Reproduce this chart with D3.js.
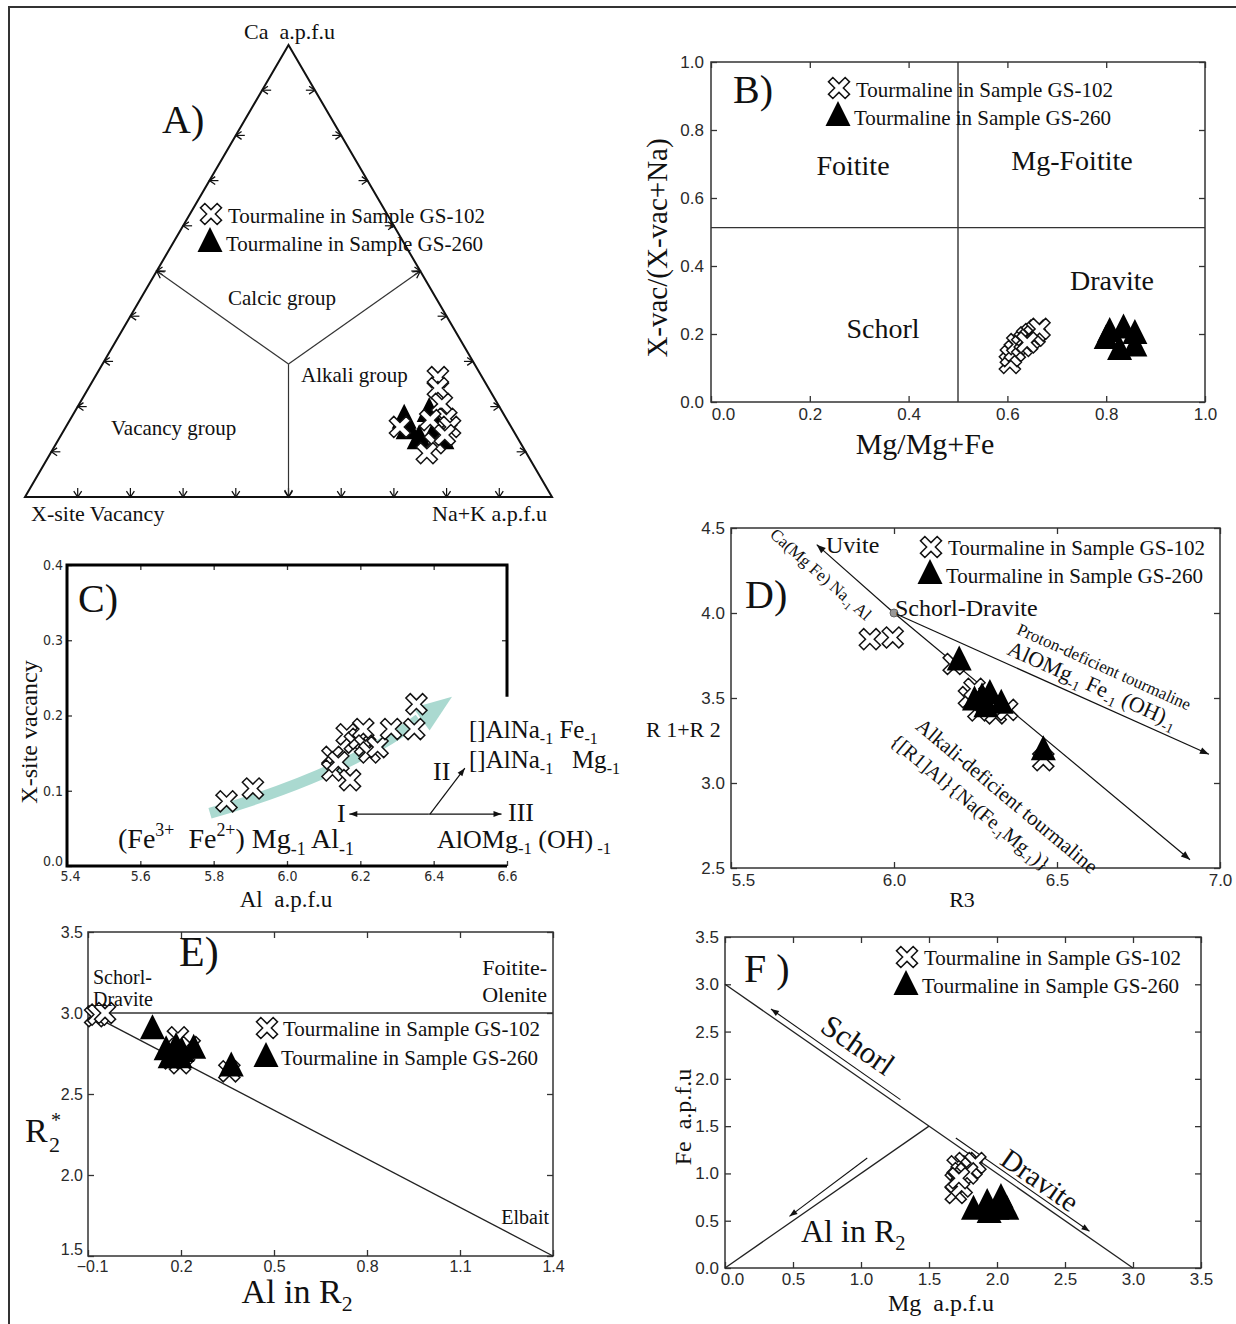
<!DOCTYPE html>
<html><head><meta charset="utf-8">
<script src="https://cdn.jsdelivr.net/npm/d3@7"></script>
<style>body{margin:0;background:#fff} svg{display:block} text{white-space:pre}</style>
</head><body><svg id="c" width="1236" height="1324"></svg>
<script>
// ================= DATA =================
// Panel A ternary: [Ca, X-site vacancy, Na+K]
const aGS102 = [[0.265,0.084,0.651],[0.241,0.096,0.663],[0.206,0.106,0.688],[0.173,0.114,0.713],[0.155,0.211,0.634],[0.155,0.116,0.729],[0.119,0.163,0.718],[0.097,0.189,0.714],[0.170,0.146,0.684],[0.137,0.135,0.728]];
const aGS260 = [[0.173,0.194,0.633],[0.188,0.139,0.673],[0.128,0.188,0.684],[0.128,0.145,0.727],[0.144,0.150,0.706],[0.150,0.198,0.652]];
const aSideTicks = [0.1,0.2,0.3,0.4,0.5,0.6,0.7,0.8,0.9];
// Panel B: [Mg/(Mg+Fe), X-vac/(X-vac+Na)]
const bGS102 = [[0.605,0.115],[0.607,0.135],[0.615,0.150],[0.620,0.170],[0.630,0.165],[0.635,0.180],[0.640,0.190],[0.645,0.185],[0.650,0.200],[0.655,0.195],[0.660,0.210],[0.665,0.215],[0.640,0.175]];
const bGS260 = [[0.807,0.206],[0.835,0.216],[0.858,0.200],[0.827,0.153],[0.858,0.163],[0.800,0.185]];
const bXTicks = [0,0.2,0.4,0.6,0.8,1.0];
const bYTicks = [0,0.2,0.4,0.6,0.8,1.0];
// Panel C: [Al apfu, X-site vacancy]
const cGS102 = [[5.835,0.086],[5.907,0.103],[6.124,0.145],[6.124,0.127],[6.140,0.138],[6.163,0.175],[6.172,0.114],[6.185,0.164],[6.197,0.169],[6.208,0.182],[6.213,0.160],[6.225,0.151],[6.247,0.158],[6.284,0.182],[6.347,0.182],[6.353,0.215]];
const cXTicks = [5.4,5.6,5.8,6.0,6.2,6.4,6.6];
const cYTicks = [0,0.1,0.2,0.3,0.4];
// Panel D: [R3, R1+R2]
const dGS102 = [[5.926,3.846],[5.996,3.856],[6.183,3.700],[6.230,3.505],[6.247,3.554],[6.259,3.427],[6.312,3.410],[6.347,3.430],[6.458,3.134],[6.277,3.476]];
const dGS260 = [[6.200,3.720],[6.247,3.485],[6.270,3.505],[6.294,3.524],[6.329,3.466],[6.282,3.446],[6.458,3.193]];
const dXTicks = [5.5,6.0,6.5,7.0];
const dYTicks = [2.5,3.0,3.5,4.0,4.5];
// Panel E: [Al in R2, R2*]
const eGS102 = [[-0.077,2.98],[-0.067,2.99],[-0.045,3.00],[0.190,2.85],[0.197,2.69],[0.228,2.79],[0.170,2.72],[0.210,2.75],[0.356,2.64]];
const eGS260 = [[0.108,2.90],[0.152,2.77],[0.184,2.79],[0.203,2.76],[0.241,2.78],[0.165,2.72],[0.197,2.72],[0.362,2.67]];
const eXTicks = [-0.1,0.2,0.5,0.8,1.1,1.4];
const eYTicks = [1.5,2.0,2.5,3.0,3.5];
// Panel F: [Mg apfu, Fe apfu]
const fGS102 = [[1.697,0.916],[1.711,1.075],[1.740,1.004],[1.769,1.110],[1.812,1.057],[1.841,1.110],[1.697,0.793],[1.740,0.863],[1.780,1.000],[1.720,0.950]];
const fGS260 = [[1.827,0.617],[1.928,0.687],[1.942,0.581],[2.029,0.740],[2.072,0.617],[2.000,0.617]];
const fXTicks = [0,0.5,1.0,1.5,2.0,2.5,3.0,3.5];
const fYTicks = [0,0.5,1.0,1.5,2.0,2.5,3.0,3.5];
const legendLabels = ["Tourmaline in Sample GS-102","Tourmaline in Sample GS-260"];

// ================= HELPERS =================
const W=1236,H=1324;
const svg=d3.select('#c');
const SERIF="'Liberation Serif','Times New Roman',serif";
const SANS="'Liberation Sans',Arial,sans-serif";
const NARROW="'Liberation Sans Narrow','Arial Narrow','DejaVu Sans Condensed',sans-serif";
const INK='#111';

svg.append('rect').attr('width',W).attr('height',H).attr('fill','#fff');
svg.append('path').attr('d','M9,1324 V7 H1236').attr('fill','none').attr('stroke','#333').attr('stroke-width',2);

const X_PATH=(()=>{const s=11.8,t=3.1,r=Math.SQRT1_2;
  const p=[[t,t],[t,s],[-t,s],[-t,t],[-s,t],[-s,-t],[-t,-t],[-t,-s],[t,-s],[t,-t],[s,-t],[s,t]];
  return 'M'+p.map(([x,y])=>((x-y)*r).toFixed(2)+','+((x+y)*r).toFixed(2)).join('L')+'Z';})();
function triPath(w,h){return `M0,${-h*0.6}L${w/2},${h*0.4}L${-w/2},${h*0.4}Z`;}
const TRI_PATH=triPath(25,25);

function drawX(g,pts){g.selectAll(null).data(pts).join('path').attr('d',X_PATH)
  .attr('transform',d=>`translate(${d[0]},${d[1]})`).attr('fill','#fff').attr('stroke',INK).attr('stroke-width',1.5);}
function drawT(g,pts){g.selectAll(null).data(pts).join('path').attr('d',TRI_PATH)
  .attr('transform',d=>`translate(${d[0]},${d[1]})`).attr('fill','#000');}

function txt(g,x,y,s,size,o={}){
  const t=g.append('text').attr('x',x).attr('y',y).attr('font-family',o.font||SERIF).attr('font-size',size)
   .attr('fill',o.fill||INK).attr('text-anchor',o.anchor||'start').text(s);
  if(o.transform) t.attr('transform',o.transform);
  if(o.baseline) t.attr('dominant-baseline',o.baseline);
  return t;}
function rich(g,x,y,parts,size,o={}){
  const t=g.append('text').attr('x',x).attr('y',y).attr('font-family',SERIF).attr('font-size',size)
   .attr('fill',INK).attr('text-anchor',o.anchor||'start');
  if(o.transform) t.attr('transform',o.transform);
  let cur=0;
  parts.forEach(([s,k])=>{const off=k==='sub'?0.24*size:k==='sup'?-0.42*size:0;
    const ts=t.append('tspan').attr('dy',off-cur).text(s); if(k&&k!=='n') ts.attr('font-size',size*0.64); cur=off;});
  return t;}
function legend(g,x,y1,y2,tx1,tx2,b1,b2,size){
  drawX(g,[[x,y1]]); drawT(g,[[x-1,y2]]);
  txt(g,tx1,b1,legendLabels[0],size); txt(g,tx2,b2,legendLabels[1],size);}
function arrowHead(g,x1,y1,x2,y2,L=9,w=3.5,col=INK){
  const a=Math.atan2(y2-y1,x2-x1),c=Math.cos(a),s=Math.sin(a);
  g.append('path').attr('d',`M${x2},${y2}L${x2-L*c+w*s},${y2-L*s-w*c}L${x2-L*c-w*s},${y2-L*s+w*c}Z`).attr('fill',col);}
function arrow(g,x1,y1,x2,y2,o={}){
  g.append('line').attr('x1',x1).attr('y1',y1).attr('x2',x2).attr('y2',y2).attr('stroke',o.col||INK).attr('stroke-width',o.sw||1.2);
  arrowHead(g,x1,y1,x2,y2,o.L||9,o.w||3.5,o.col||INK);}
function line(g,x1,y1,x2,y2,sw=1.3,col='#222'){
  g.append('line').attr('x1',x1).attr('y1',y1).attr('x2',x2).attr('y2',y2).attr('stroke',col).attr('stroke-width',sw);}
function chevron(g,x,y,ang,L=7,spr=0.6){
  const p=[ang+Math.PI-spr,ang+Math.PI+spr].map(a=>[x+L*Math.cos(a),y+L*Math.sin(a)]);
  g.append('path').attr('d',`M${p[0]}L${x},${y}L${p[1]}`).attr('fill','none').attr('stroke',INK).attr('stroke-width',1.3);}

function axes(g,x,y,xt,yt,o={}){
  const [x0,x1]=x.range(),[y0,y1]=y.range();
  const fs=o.fs||17,font=o.font||SANS,tk=o.tk||6;
  const fx=o.fmtX||d3.format('.1f'),fy=o.fmtY||d3.format('.1f');
  const st=sel=>{sel.select('.domain').remove();sel.selectAll('line').attr('stroke','#333').attr('stroke-width',1.3);
    sel.selectAll('text').attr('font-family',font).attr('font-size',fs).attr('fill','#2a2a2a');};
  const bx=g.append('g').attr('transform',`translate(0,${y0})`).call(d3.axisBottom(x).tickValues(xt).tickFormat(fx).tickSizeInner(-tk).tickSizeOuter(0).tickPadding(o.xpad||5)).call(st);
  if(o.firstShift) bx.selectAll('.tick text').filter((d,i)=>i===0).attr('dx',o.firstShift);
  const ly=g.append('g').attr('transform',`translate(${x0},0)`).call(d3.axisLeft(y).tickValues(yt).tickFormat(fy).tickSizeInner(-tk).tickSizeOuter(0).tickPadding(o.ypad||5)).call(st);
  if(o.firstYShift) ly.selectAll('.tick text').filter((d,i)=>i===0).attr('dy',o.firstYShift);
  if(!o.noTop) g.append('g').attr('transform',`translate(0,${y1})`).call(d3.axisTop(x).tickValues(xt).tickFormat('').tickSizeInner(-tk).tickSizeOuter(0)).call(st);
  g.append('g').attr('transform',`translate(${x1},0)`).call(d3.axisRight(y).tickValues(o.rightTicks||yt).tickFormat('').tickSizeInner(-tk).tickSizeOuter(0)).call(st);
  if(!o.noFrame) g.append('rect').attr('x',x0).attr('y',y1).attr('width',x1-x0).attr('height',y0-y1).attr('fill','none').attr('stroke','#333').attr('stroke-width',o.frameW||1.5);
}

// ================= PANEL A (ternary) =================
{
const g=svg.append('g');
const aX=d3.scaleLinear().domain([0,1]).range([25,552]);
const aY=d3.scaleLinear().domain([0,1]).range([497,45]);
const tern=d=>[aX(d[2]+d[0]/2),aY(d[0])];
const A=tern([1,0,0]),B=tern([0,1,0]),C=tern([0,0,1]);
g.append('path').attr('d',`M${A}L${B}L${C}Z`).attr('fill','none').attr('stroke',INK).attr('stroke-width',2);
aSideTicks.forEach(f=>{
  const pb=tern([0,1-f,f]); line(g,pb[0],pb[1],pb[0],pb[1]-9,1.2,INK); chevron(g,pb[0],pb[1],Math.PI/2);
  const pl=tern([f,1-f,0]); line(g,pl[0],pl[1],pl[0]+9,pl[1],1.2,INK); chevron(g,pl[0],pl[1],Math.PI);
  const pr=tern([f,0,1-f]); line(g,pr[0],pr[1],pr[0]-9,pr[1],1.2,INK); chevron(g,pr[0],pr[1],0);
});
const ctr=tern([0.294,0.353,0.353]);
[[0.5,0.5,0],[0.5,0,0.5],[0,0.5,0.5]].forEach(e=>{const p=tern(e);
  line(g,ctr[0],ctr[1],p[0],p[1],1.2,'#333');
  chevron(g,p[0],p[1],Math.atan2(p[1]-ctr[1],p[0]-ctr[0]),8,0.5);});
txt(g,244,39,'Ca  a.p.f.u',22);
txt(g,31,521,'X-site Vacancy',22);
txt(g,432,521,'Na+K a.p.f.u',22);
txt(g,162,133,'A)',40);
txt(g,282,305,'Calcic group',21,{anchor:'middle'});
txt(g,301,382,'Alkali group',21);
txt(g,111,435,'Vacancy group',21);
legend(g,211,214,242,228,226,223,251,21);
drawT(g,aGS260.map(tern));
drawX(g,aGS102.map(tern));
}

// ================= PANEL B =================
{
const g=svg.append('g');
const x=d3.scaleLinear().domain([0,1]).range([711,1205]);
const y=d3.scaleLinear().domain([0,1]).range([402,62]);
axes(g,x,y,bXTicks,bYTicks,{fs:17,firstShift:12,xpad:6,ypad:7});
line(g,x(0.5),y(0),x(0.5),y(1),1.4,'#333');
line(g,x(0),y(0.513),x(1),y(0.513),1.4,'#333');
txt(g,733,103,'B)',40);
legend(g,839,88,116,856,854,97,125,21);
txt(g,853,175,'Foitite',28,{anchor:'middle'});
txt(g,1072,170,'Mg-Foitite',28,{anchor:'middle'});
txt(g,1112,290,'Dravite',28,{anchor:'middle'});
txt(g,883,338,'Schorl',28,{anchor:'middle'});
txt(g,0,0,'X-vac/(X-vac+Na)',29,{anchor:'middle',transform:'translate(667,248) rotate(-90)'});
txt(g,925,454,'Mg/Mg+Fe',30,{anchor:'middle'});
drawX(g,bGS102.map(d=>[x(d[0]),y(d[1])]));
drawT(g,bGS260.map(d=>[x(d[0]),y(d[1])]));
}

// ================= PANEL C =================
{
const g=svg.append('g');
const x=d3.scaleLinear().domain([5.4,6.6]).range([67,507]);
const y=d3.scaleLinear().domain([0,0.4]).range([866,565]);
axes(g,x,y,cXTicks,cYTicks,{fs:14,font:NARROW,noFrame:true,rightTicks:[0.3],xpad:5,ypad:4,tk:5,firstShift:3,firstYShift:'-0.05em'});
g.append('path').attr('d',`M${x(6.6)},${y(0.225)}V${y(0.4)}H${x(5.4)}V${y(0)}H${x(6.6)}`).attr('fill','none').attr('stroke','#000').attr('stroke-width',3);
// teal trend arrow
const col='#aad9d0';
const p0=[x(5.79),y(0.07)],pm=[x(6.12),y(0.128)],p2=[x(6.36),y(0.195)],tip=[x(6.45),y(0.225)];
const p1=[2*pm[0]-0.5*(p0[0]+p2[0]),2*pm[1]-0.5*(p0[1]+p2[1])];
g.append('path').attr('d',`M${p0}Q${p1} ${p2}`).attr('fill','none').attr('stroke',col).attr('stroke-width',11);
arrowHead(g,p1[0],p1[1],tip[0],tip[1],38,14,col);
drawX(g,cGS102.map(d=>[x(d[0]),y(d[1])]));
txt(g,98,612,'C)',40,{anchor:'middle'});
txt(g,0,0,'X-site vacancy',24,{anchor:'middle',transform:'translate(37,732) rotate(-90)'});
txt(g,286,907,'Al  a.p.f.u',23,{anchor:'middle'});
rich(g,469,738,[['[]AlNa'],['-1','sub'],[' Fe'],['-1','sub']],25);
rich(g,469,768,[['[]AlNa'],['-1','sub'],['   Mg'],['-1','sub']],25);
txt(g,433,780,'II',26);
txt(g,337,822,'I',26);
txt(g,508,821,'III',26);
rich(g,118,848,[['(Fe'],['3+','sup'],['  Fe'],['2+','sup'],[') Mg'],['-1','sub'],[' Al'],['-1','sub']],28);
rich(g,437,848,[['AlOMg'],['-1','sub'],[' (OH)'],[' -1','sub']],26);
arrow(g,(x(6.17)+x(6.6))/2,y(0.069),x(6.17),y(0.069),{L:8,w:3});
arrow(g,(x(6.17)+x(6.6))/2,y(0.069),x(6.585),y(0.069),{L:8,w:3});
arrow(g,x(6.39),y(0.069),x(6.485),y(0.13),{L:8,w:3});
}

// ================= PANEL D =================
{
const g=svg.append('g');
const x=d3.scaleLinear().domain([5.5,7.0]).range([731,1220]);
const y=d3.scaleLinear().domain([2.5,4.5]).range([868,528]);
axes(g,x,y,dXTicks,dYTicks,{fs:17,firstShift:12,xpad:6,ypad:6});
const o=[x(6.0),y(4.0)];
arrow(g,o[0],o[1],x(5.763),y(4.402),{sw:1.2});
arrow(g,o[0],o[1],x(6.908),y(2.549),{sw:1.2});
arrow(g,o[0],o[1],x(6.966),y(3.169),{sw:1.2});
const ang=(a,b)=>Math.atan2(b[1]-a[1],b[0]-a[0])*180/Math.PI;
const a1=ang([x(5.763),y(4.402)],o), a2=ang(o,[x(6.966),y(3.169)]), a3=ang(o,[x(6.908),y(2.549)]);
drawX(g,dGS102.map(d=>[x(d[0]),y(d[1])]));
drawT(g,dGS260.map(d=>[x(d[0]),y(d[1])]));
g.append('circle').attr('cx',o[0]).attr('cy',o[1]).attr('r',4).attr('fill','#999').attr('stroke','#666');
txt(g,745,608,'D)',40);
txt(g,826,553,'Uvite',24);
txt(g,895,616,'Schorl-Dravite',24);
rich(g,0,0,[['Ca(Mg Fe) Na'],['-1','sub'],[' Al']],17,{transform:`translate(769,536) rotate(${a1})`});
txt(g,0,0,'Proton-deficient tourmaline',17,{anchor:'middle',baseline:'central',transform:`translate(1104,667) rotate(${a2})`});
rich(g,0,6,[['AlOMg'],['-1','sub'],[' Fe'],['-1','sub'],[' (OH)'],['-1','sub']],22,{anchor:'middle',transform:`translate(1092,686) rotate(${a2})`});
txt(g,0,7,'Alkali-deficient tourmaline',21,{anchor:'middle',transform:`translate(1007,796) rotate(${a3})`});
rich(g,0,6,[['{[R1]Al}{Na(Fe'],['-1','sub'],['Mg'],['-1','sub'],[')}']],20,{anchor:'middle',transform:`translate(970,803) rotate(${a3})`});
legend(g,931,547,574,948,946,555,583,21);
txt(g,646,737,'R 1+R 2',22);
txt(g,962,907,'R3',22,{anchor:'middle'});
}

// ================= PANEL E =================
{
const g=svg.append('g');
const x=d3.scaleLinear().domain([-0.1,1.4]).range([88,553]);
const y=d3.scaleLinear().domain([1.5,3.5]).range([1256,932]);
axes(g,x,y,eXTicks,eYTicks,{fs:16,xpad:5,ypad:5,firstShift:4,firstYShift:'-0.1em'});
line(g,x(-0.1),y(3.0),x(1.4),y(3.0),1.4,'#333');
line(g,x(-0.1),y(3.0),x(1.4),y(1.5),1.4,'#222');
drawX(g,eGS102.map(d=>[x(d[0]),y(d[1])]));
drawT(g,eGS260.map(d=>[x(d[0]),y(d[1])]));
txt(g,179,966,'E)',42);
txt(g,93,984,'Schorl-',20);
txt(g,93,1006,'Dravite',20);
txt(g,547,975,'Foitite-',22,{anchor:'end'});
txt(g,547,1002,'Olenite',22,{anchor:'end'});
txt(g,549,1224,'Elbait',20,{anchor:'end'});
legend(g,267,1028,1057,283,281,1036,1065,21);
txt(g,25,1142,'R',34);
txt(g,51,1127,'*',20);
txt(g,49,1152,'2',22);
rich(g,297,1303,[['Al in R'],['2','sub']],34,{anchor:'middle'});
}

// ================= PANEL F =================
{
const g=svg.append('g');
const x=d3.scaleLinear().domain([0,3.5]).range([725,1201]);
const y=d3.scaleLinear().domain([0,3.5]).range([1268,937]);
axes(g,x,y,fXTicks,fYTicks,{fs:17,firstShift:7,xpad:5,ypad:6});
line(g,x(0),y(3),x(3),y(0),1.3,'#222');
line(g,x(0),y(0),x(1.5),y(1.5),1.3,'#222');
arrow(g,x(1.29),y(1.78),x(0.338),y(2.739),{sw:1.1,L:8,w:3});
arrow(g,x(1.697),y(1.374),x(2.68),y(0.388),{sw:1.1,L:8,w:3});
arrow(g,x(1.046),y(1.163),x(0.474),y(0.546),{sw:1.1,L:8,w:3});
const ang=Math.atan2(y(0)-y(3),x(3)-x(0))*180/Math.PI;
txt(g,0,0,'Schorl',31,{anchor:'middle',baseline:'central',transform:`translate(858,1045) rotate(${ang})`});
txt(g,0,0,'Dravite',29,{anchor:'middle',baseline:'central',transform:`translate(1040,1180) rotate(${ang})`});
rich(g,801,1242,[['Al in R'],['2','sub']],32);
drawX(g,fGS102.map(d=>[x(d[0]),y(d[1])]));
drawT(g,fGS260.map(d=>[x(d[0]),y(d[1])]));
txt(g,744,982,'F )',40);
legend(g,907,957,985,924,922,965,993,21);
txt(g,0,0,'Fe  a.p.f.u',24,{anchor:'middle',transform:'translate(691,1117) rotate(-90)'});
txt(g,941,1311,'Mg  a.p.f.u',24,{anchor:'middle'});
}
</script></body></html>
